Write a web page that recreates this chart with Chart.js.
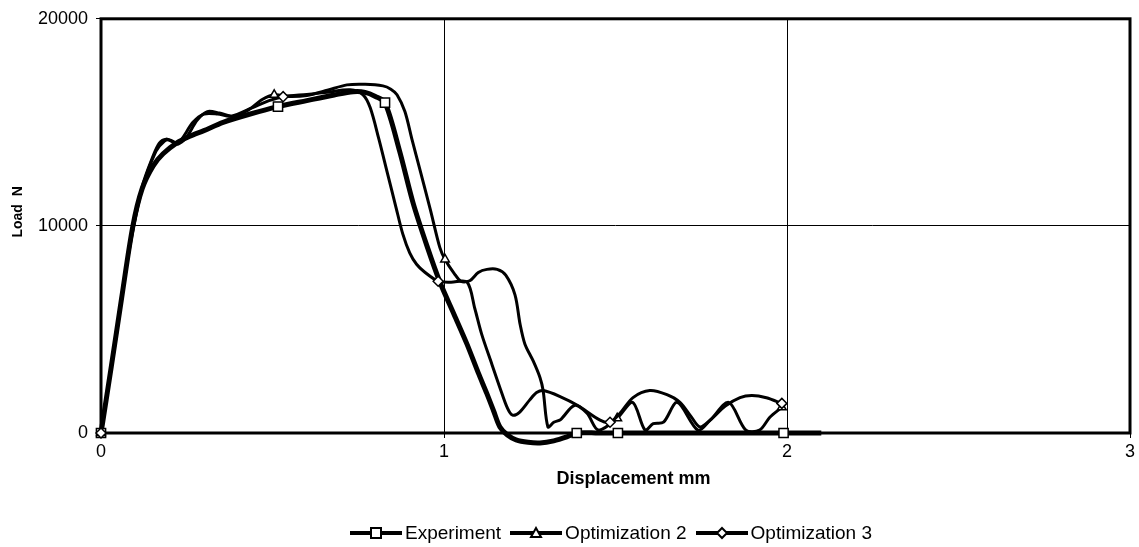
<!DOCTYPE html>
<html>
<head>
<meta charset="utf-8">
<script src="https://cdn.jsdelivr.net/npm/chart.js@4.4.1/dist/chart.umd.min.js"></script>
<style>
  html, body { margin:0; padding:0; background:#fff; }
  #wrap { position:relative; width:1139px; height:547px; }
  #chart { position:absolute; left:0; top:0; }
  #legend { position:absolute; left:350px; top:522px; height:22px; display:flex; align-items:center;
            font-family:'Liberation Sans', Arial, sans-serif; font-size:19px; color:#000; white-space:nowrap; }
  .legend-item { display:flex; align-items:center; margin-right:9px; }
  .legend-item svg { margin-right:3px; }
</style>
</head>
<body>
<div id="wrap">
  <canvas id="chart" width="1139" height="547"></canvas>
  <div id="legend"></div>
</div>
<script>
const FONT = "'Liberation Sans', Arial, sans-serif";

const xTicks = [0, 1, 2, 3];
const yTicks = [0, 10000, 20000];
const seriesNames = ['Experiment', 'Optimization 2', 'Optimization 3'];

// [displacement mm, load N]
const experiment = [
  [0,0],[0.03,3200],[0.06,6500],[0.093,10000],[0.12,11800],[0.152,12900],[0.181,13480],[0.22,14000],
  [0.259,14330],[0.30,14600],[0.356,15000],[0.43,15380],[0.516,15760],[0.60,16050],[0.68,16320],
  [0.735,16480],[0.77,16450],[0.80,16250],[0.828,15950],[0.87,13650],[0.91,11100],[0.95,9050],
  [0.988,7290],[1.03,5700],[1.067,4290],[1.10,2900],[1.125,1900],[1.145,1050],[1.163,290],[1.185,-100],
  [1.21,-330],[1.245,-450],[1.28,-480],[1.32,-380],[1.358,-190],[1.387,0],[1.45,0],[1.507,0],
  [1.75,0],[1.99,0],[2.1,0]
];
const optimization2 = [
  [0,0],[0.04,4300],[0.08,8700],[0.12,11900],[0.15,13300],[0.17,14000],[0.19,14190],[0.21,14050],
  [0.225,13950],[0.25,14300],[0.28,15100],[0.31,15520],[0.345,15450],[0.385,15290],[0.43,15600],
  [0.47,16100],[0.505,16330],[0.55,16250],[0.60,16300],[0.66,16550],[0.717,16810],[0.77,16840],
  [0.822,16760],[0.845,16600],[0.863,16330],[0.886,15520],[0.907,14150],[0.93,12700],[0.96,10800],
  [0.988,8950],[1.003,8380],[1.03,7700],[1.05,7320],[1.075,7350],[1.10,7750],
  [1.125,7900],[1.155,7900],[1.18,7620],[1.207,6670],[1.222,5240],[1.236,4290],[1.26,3480],
  [1.28,2670],[1.289,2050],[1.303,290],[1.32,520],[1.34,650],[1.38,1330],[1.417,950],[1.45,140],
  [1.505,710],[1.55,1480],[1.586,140],[1.61,450],[1.64,520],[1.68,1480],[1.74,140],[1.776,620],
  [1.83,1480],[1.88,140],[1.92,140],[1.95,760],[1.985,1240]
];
const optimization3 = [
  [0,0],[0.04,4200],[0.08,8600],[0.12,11800],[0.16,13600],[0.185,14100],[0.20,14150],[0.225,14000],
  [0.268,15000],[0.30,15400],[0.34,15400],[0.38,15300],[0.44,15700],[0.49,16050],[0.531,16240],
  [0.60,16350],[0.66,16450],[0.726,16570],[0.764,16330],[0.785,15700],[0.81,14200],[0.835,12550],
  [0.86,10900],[0.88,9600],[0.90,8700],[0.92,8150],[0.945,7750],[0.983,7330],
  [1.02,7280],[1.067,7290],[1.09,6000],[1.11,4760],[1.14,3300],[1.163,2190],[1.185,1200],[1.20,860],
  [1.22,1000],[1.25,1600],[1.27,1950],[1.29,2050],[1.34,1750],[1.39,1330],[1.455,620],[1.484,520],
  [1.513,950],[1.551,1710],[1.60,2050],[1.65,1850],[1.688,1480],[1.72,800],[1.746,290],[1.776,620],
  [1.82,1300],[1.863,1710],[1.898,1810],[1.94,1700],[1.985,1430]
];

// displacements that carry a marker
const experimentMarks = [0, 0.516, 0.828, 1.387, 1.507, 1.99];
const optimization2Marks = [0, 0.505, 1.003, 1.505, 1.985];
const optimization3Marks = [0, 0.531, 0.983, 1.484, 1.985];

const toPoints = arr => arr.map(([x, y]) => ({ x, y }));
const markerRadius = (marks, r) => ctx => (ctx.raw && marks.includes(ctx.raw.x)) ? r : 0;

const makeSet = (label, data, marks, style, r, width, order) => ({
  label, data: toPoints(data), order,
  borderColor:'#000', borderWidth:width, backgroundColor:'#fff',
  pointStyle:style, pointRadius:markerRadius(marks, r), pointHoverRadius:markerRadius(marks, r),
  pointBackgroundColor:'#fff', pointBorderColor:'#000', pointBorderWidth:1.5,
  tension:0.3, clip:false
});

const datasets = [
  makeSet(seriesNames[0], experiment, experimentMarks, 'rect', 6.5, 5, 3),
  makeSet(seriesNames[1], optimization2, optimization2Marks, 'triangle', 5, 3, 2),
  makeSet(seriesNames[2], optimization3, optimization3Marks, 'rectRot', 5, 3, 1)
];

// plot frame plus the two axis titles
const framePlugin = {
  id:'frame',
  beforeDatasetsDraw(chart) {
    const { ctx, chartArea:a } = chart;
    ctx.save();
    ctx.strokeStyle = '#000';
    ctx.lineWidth = 3;
    ctx.strokeRect(a.left, a.top, a.right - a.left, a.bottom - a.top);
    ctx.restore();
  },
  afterDraw(chart) {
    const { ctx, chartArea:a } = chart;
    ctx.save();
    ctx.fillStyle = '#000';
    ctx.textAlign = 'center';
    ctx.textBaseline = 'middle';
    ctx.font = 'bold 18px ' + FONT;
    ctx.fillText('Displacement mm', (a.left + a.right) / 2 + 18, a.bottom + 46);
    ctx.font = 'bold 14px ' + FONT;
    ctx.translate(18, (a.top + a.bottom) / 2 - 14);
    ctx.rotate(-Math.PI / 2);
    ctx.fillText('Load  N', 0, 0);
    ctx.restore();
  }
};

new Chart(document.getElementById('chart').getContext('2d'), {
  type:'line',
  data:{ datasets },
  options:{
    responsive:false, animation:false,
    layout:{ padding:{ top:13, right:9, left:0, bottom:0 } },
    plugins:{ legend:{ display:false }, tooltip:{ enabled:false } },
    scales:{
      x:{
        type:'linear', min:xTicks[0], max:xTicks[xTicks.length - 1],
        afterBuildTicks: s => { s.ticks = xTicks.map(v => ({ value:v })); },
        afterFit: s => { s.height = 114; },
        border:{ display:false },
        grid:{ color:'#000', lineWidth:1, tickLength:5 },
        ticks:{ color:'#000', padding:3, maxRotation:0, font:{ family:FONT, size:18 } }
      },
      y:{
        type:'linear', min:yTicks[0], max:yTicks[yTicks.length - 1],
        afterBuildTicks: s => { s.ticks = yTicks.map(v => ({ value:v })); },
        afterFit: s => { s.width = 101; },
        border:{ display:false },
        grid:{ color:'#000', lineWidth:1, tickLength:5 },
        ticks:{ color:'#000', padding:8, font:{ family:FONT, size:18 }, callback: v => String(v) }
      }
    }
  },
  plugins:[framePlugin]
});

// legend: line with the series marker in the middle
const icons = [
  '<rect x="21" y="2" width="10" height="10" fill="#fff" stroke="#000" stroke-width="2"/>',
  '<polygon points="26,2 31,11 21,11" fill="#fff" stroke="#000" stroke-width="2"/>',
  '<polygon points="26,2 31,7 26,12 21,7" fill="#fff" stroke="#000" stroke-width="2"/>'
];
document.getElementById('legend').innerHTML = seriesNames.map((name, i) =>
  `<span class="legend-item"><svg width="52" height="14"><line x1="0" y1="7" x2="52" y2="7" stroke="#000" stroke-width="4" stroke-linecap="round"/>${icons[i]}</svg><span>${name}</span></span>`
).join('');
</script>
</body>
</html>
